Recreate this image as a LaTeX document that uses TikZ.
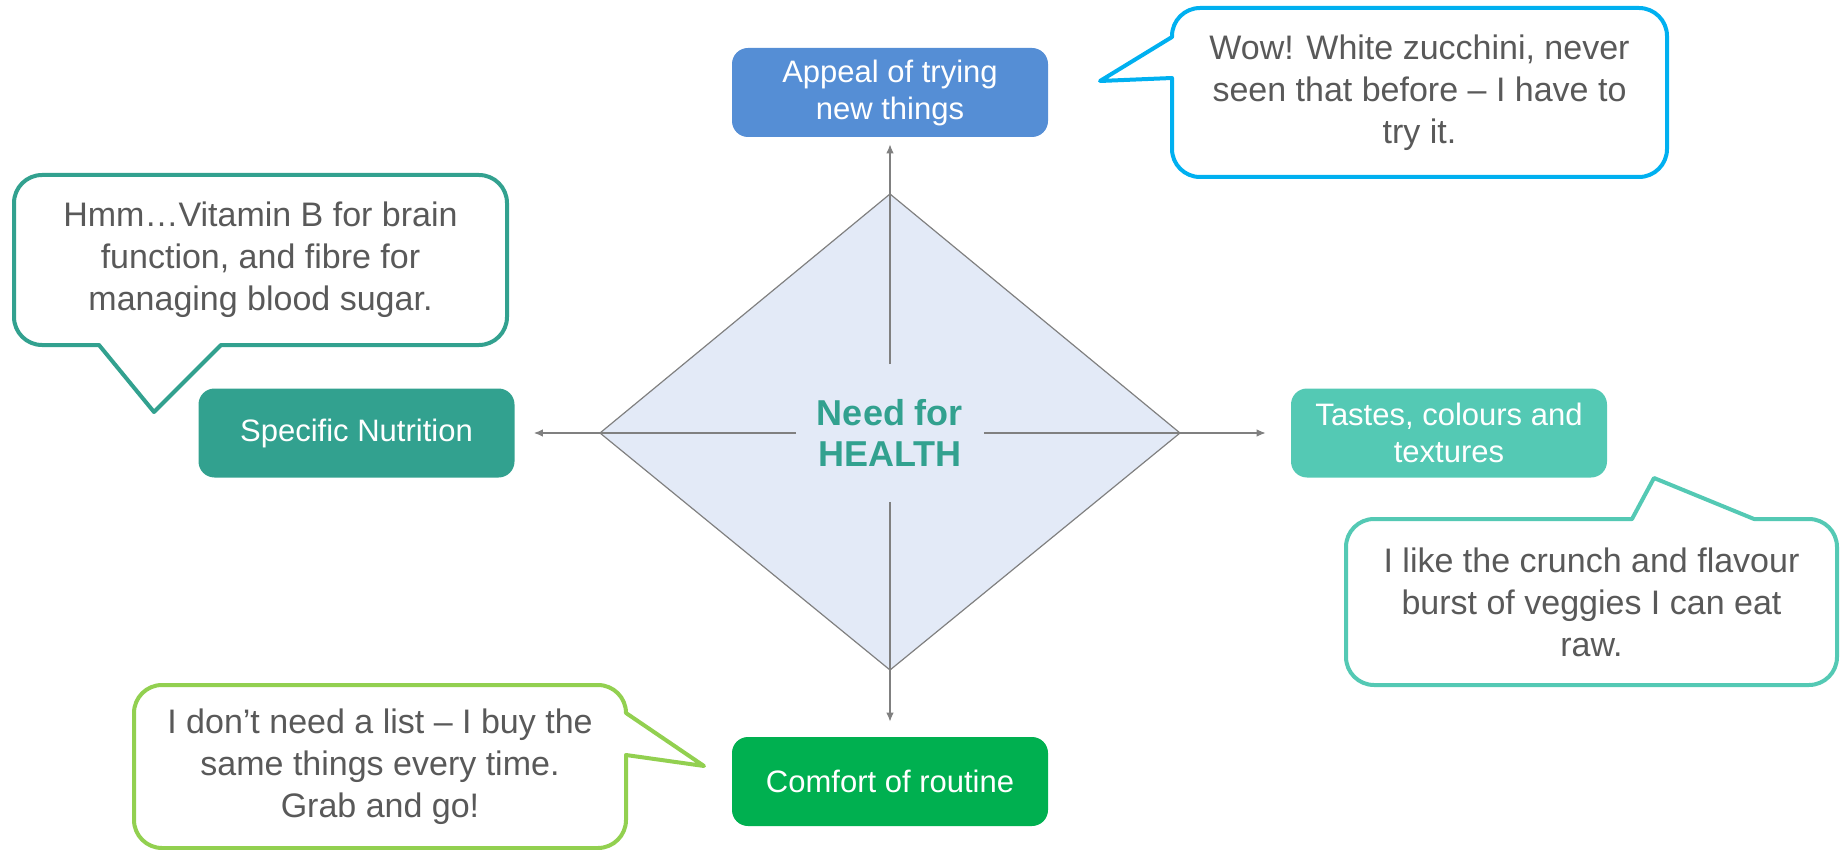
\documentclass[tikz,border=0pt]{standalone}
\usepackage{fontspec}
\setmainfont{Liberation Sans}
\usepackage{xcolor}
\definecolor{hblue}{RGB}{85, 142, 213}
\definecolor{hteal}{RGB}{50, 161, 143}
\definecolor{hmint}{RGB}{84, 201, 180}
\definecolor{hgreen}{RGB}{0, 176, 80}
\definecolor{hlime}{RGB}{146, 208, 80}
\definecolor{hcyan}{RGB}{0, 176, 240}
\definecolor{hgray}{RGB}{128, 128, 128}
\definecolor{htext}{RGB}{89, 89, 89}
\definecolor{hfill}{RGB}{227, 234, 247}
\usetikzlibrary{arrows.meta}

\begin{document}
\begin{tikzpicture}[x=0.5pt, y=-0.5pt, >={Latex[length=4.5pt, width=3.8pt]}]

% === Estilos ===
\tikzset{
    box/.style={rounded corners=8pt, minimum width=158pt, minimum height=44.5pt,
        inner sep=0pt, text=white, align=center,
        font=\fontsize{15.5pt}{18.5pt}\selectfont},
    bubble/.style={draw, line width=2pt, fill=white, rounded corners=14pt,
        inner sep=0pt, text=htext, align=center,
        font=\fontsize{17pt}{21pt}\selectfont},
    link/.style={->, hgray, line width=0.6pt}
}

% Marco de la figura
\useasboundingbox (0,0) rectangle (1842,850);

% === Rombo central ===
\coordinate (T) at (890,194);   % Vértice superior
\coordinate (D) at (1180,433);  % Vértice derecho
\coordinate (B) at (890,670);   % Vértice inferior
\coordinate (I) at (600,433);   % Vértice izquierdo
\filldraw[fill=hfill, draw=hgray, line width=0.6pt] (T) -- (D) -- (B) -- (I) -- cycle;

% Texto central (el hueco de las flechas sale de este nodo)
\node[minimum width=93.5pt, minimum height=68.5pt, inner sep=0pt, align=center,
    text=hteal, font=\bfseries\fontsize{18pt}{20.5pt}\selectfont]
    (need) at (890,433) {Need for\\HEALTH};

% === Cajas ===
\node[box, fill=hblue]  (appeal)  at (890,92.5)  {Appeal of trying\\new things};
\node[box, fill=hteal]  (spec)    at (356.5,433) {Specific Nutrition};
\node[box, fill=hmint]  (tastes)  at (1449,433)  {Tastes, colours and\\textures};
\node[box, fill=hgreen] (comfort) at (890,781.5) {Comfort of routine};

% === Flechas ===
\draw[link, shorten >=3.5pt] (need.north) -- (appeal.south);
\draw[link, shorten >=7.5pt] (need.south) -- (comfort.north);
\draw[link, shorten >=9.5pt] (need.west)  -- (spec.east);
\draw[link, shorten >=12.5pt] (need.east) -- (tastes.west);

% === Globos de diálogo ===
\node[bubble, draw=hcyan, minimum width=247.5pt, minimum height=84.5pt]
    (wow) at (1419.5,92.5) {Wow! White zucchini, never\\seen that before – I have to\\try it.};
\node[bubble, draw=hteal, minimum width=246.5pt, minimum height=85pt]
    (hmm) at (260.5,260) {Hmm…Vitamin B for brain\\function, and fibre for\\managing blood sugar.};
\node[bubble, draw=hmint, minimum width=245.5pt, minimum height=83pt]
    (crunch) at (1591.5,602) {I like the crunch and flavour\\burst of veggies I can eat\\raw.};
\node[bubble, draw=hlime, minimum width=246pt, minimum height=81.5pt]
    (grab) at (380,766.5) {I don’t need a list – I buy the\\same things every time.\\Grab and go!};

% Colas de los globos (se tapa el borde y se dibuja la punta)
\fill[white] (1172,37) -- (1100,81) -- (1172,78) -- (1175,78) -- (1175,37) -- cycle;
\draw[hcyan, line width=2pt, line cap=round, line join=round]
    (1172,37) -- (1100,81) -- (1172,78);

\fill[white] (99,345) -- (154,412) -- (221,345) -- (221,342) -- (99,342) -- cycle;
\draw[hteal, line width=2pt, line cap=round, line join=round]
    (99,345) -- (154,412) -- (221,345);

\fill[white] (1632,519) -- (1654,478) -- (1754,519) -- (1754,522) -- (1632,522) -- cycle;
\draw[hmint, line width=2pt, line cap=round, line join=round]
    (1632,519) -- (1654,478) -- (1754,519);

\fill[white] (626,713) -- (704,766) -- (626,755) -- (623,755) -- (623,713) -- cycle;
\draw[hlime, line width=2pt, line cap=round, line join=round]
    (626,713) -- (704,766) -- (626,755);

\end{tikzpicture}
\end{document}
